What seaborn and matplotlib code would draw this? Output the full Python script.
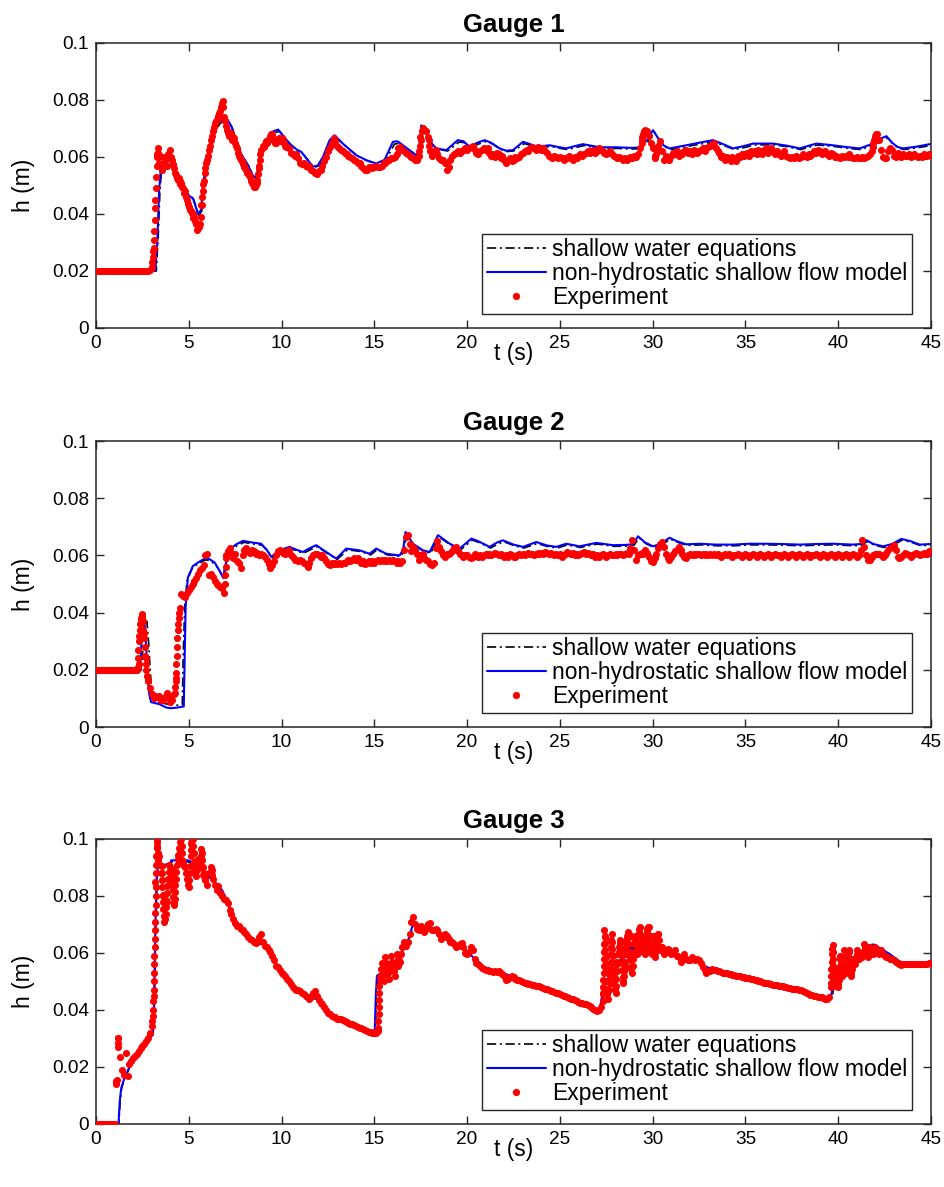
import numpy as np
import pandas as pd
import matplotlib
matplotlib.use("Agg")
import matplotlib.pyplot as plt
import seaborn as sns
from matplotlib.lines import Line2D
from matplotlib.ticker import FuncFormatter

# ---------------------------------------------------------------------------
# Data: water depth h (m) against time t (s) at three gauges
# ---------------------------------------------------------------------------
titles = ["Gauge 1", "Gauge 2", "Gauge 3"]
series_labels = ["shallow water equations",
                 "non-hydrostatic shallow flow model",
                 "Experiment"]
x_ticks = [0, 5, 10, 15, 20, 25, 30, 35, 40, 45]
y_ticks = [0, 0.02, 0.04, 0.06, 0.08, 0.1]

# measured record, sampled every 0.1 s from t = 0 to 45 s
exp_t = np.round(np.arange(451) * 0.1, 1)

g1_exp_h = [
    0.020, 0.020, 0.020, 0.020, 0.020, 0.020, 0.020, 0.020, 0.020, 0.020,
    0.020, 0.020, 0.020, 0.020, 0.020, 0.020, 0.020, 0.020, 0.020, 0.020,
    0.020, 0.020, 0.020, 0.020, 0.020, 0.020, 0.020, 0.020, 0.020, 0.0202,
    0.021, 0.028, 0.045, 0.061, 0.058, 0.0575, 0.060, 0.058, 0.057, 0.061,
    0.0625, 0.059, 0.056, 0.0535, 0.052, 0.0515, 0.051, 0.049, 0.048, 0.045,
    0.0425, 0.041, 0.040, 0.039, 0.0365, 0.035, 0.0365, 0.043, 0.0515, 0.056,
    0.059, 0.0625, 0.066, 0.069, 0.072, 0.073, 0.0745, 0.076, 0.079, 0.074,
    0.071, 0.0685, 0.0675, 0.068, 0.067, 0.065, 0.063, 0.0605, 0.059, 0.0575,
    0.057, 0.0555, 0.0545, 0.053, 0.051, 0.0495, 0.050, 0.052, 0.057, 0.0625,
    0.064, 0.0645, 0.065, 0.066, 0.0675, 0.068, 0.066, 0.065, 0.0655, 0.066,
    0.0665, 0.066, 0.064, 0.0635, 0.063, 0.0615, 0.061, 0.0605, 0.061, 0.0595,
    0.058, 0.0575, 0.058, 0.057, 0.0565, 0.057, 0.0555, 0.055, 0.0545, 0.054,
    0.055, 0.0555, 0.057, 0.0585, 0.060, 0.062, 0.0635, 0.065, 0.0665, 0.0655,
    0.064, 0.063, 0.0625, 0.062, 0.0615, 0.061, 0.0605, 0.060, 0.0595, 0.059,
    0.0585, 0.058, 0.058, 0.057, 0.056, 0.0555, 0.0555, 0.0565, 0.0565, 0.056,
    0.0565, 0.057, 0.0565, 0.0565, 0.057, 0.058, 0.058, 0.0585, 0.059, 0.0595,
    0.0595, 0.060, 0.061, 0.063, 0.0635, 0.0625, 0.062, 0.0615, 0.061, 0.0605,
    0.060, 0.0595, 0.059, 0.059, 0.0605, 0.066, 0.070, 0.0695, 0.069, 0.067,
    0.062, 0.0605, 0.062, 0.0625, 0.061, 0.0595, 0.059, 0.059, 0.058, 0.0555,
    0.0565, 0.059, 0.0605, 0.061, 0.0615, 0.062, 0.0615, 0.062, 0.0625, 0.063,
    0.0625, 0.063, 0.0635, 0.064, 0.0625, 0.0615, 0.061, 0.062, 0.0625, 0.063,
    0.0625, 0.063, 0.0615, 0.0605, 0.061, 0.060, 0.0615, 0.061, 0.0595, 0.0605,
    0.059, 0.058, 0.059, 0.0595, 0.0585, 0.059, 0.060, 0.0595, 0.060, 0.061,
    0.0615, 0.062, 0.0625, 0.062, 0.063, 0.0635, 0.063, 0.0625, 0.0635, 0.063,
    0.0625, 0.063, 0.062, 0.0615, 0.0605, 0.060, 0.0595, 0.0605, 0.060, 0.0595,
    0.060, 0.0595, 0.059, 0.0595, 0.0595, 0.0605, 0.0595, 0.059, 0.060, 0.0595,
    0.0605, 0.061, 0.0605, 0.061, 0.0615, 0.062, 0.0615, 0.062, 0.0625, 0.0615,
    0.062, 0.063, 0.0625, 0.062, 0.0615, 0.061, 0.0615, 0.062, 0.061, 0.0605,
    0.060, 0.0595, 0.060, 0.0595, 0.059, 0.0595, 0.059, 0.0595, 0.060, 0.0595,
    0.0605, 0.060, 0.061, 0.063, 0.065, 0.068, 0.0695, 0.069, 0.0675, 0.065,
    0.063, 0.0595, 0.061, 0.064, 0.0655, 0.062, 0.059, 0.0605, 0.0595, 0.059,
    0.0605, 0.0615, 0.061, 0.062, 0.0605, 0.0615, 0.061, 0.062, 0.0625, 0.0615,
    0.062, 0.061, 0.0625, 0.062, 0.0615, 0.062, 0.0625, 0.063, 0.062, 0.063,
    0.0635, 0.064, 0.0645, 0.065, 0.063, 0.062, 0.0615, 0.060, 0.0605, 0.059,
    0.060, 0.0595, 0.0585, 0.060, 0.059, 0.0585, 0.0605, 0.060, 0.061, 0.0605,
    0.061, 0.0615, 0.0605, 0.062, 0.0615, 0.062, 0.061, 0.0625, 0.062, 0.061,
    0.0625, 0.063, 0.0615, 0.0625, 0.063, 0.062, 0.061, 0.062, 0.061, 0.0605,
    0.061, 0.062, 0.0605, 0.060, 0.0595, 0.060, 0.0595, 0.0605, 0.060, 0.0595,
    0.060, 0.061, 0.0605, 0.060, 0.061, 0.0605, 0.061, 0.062, 0.0615, 0.0625,
    0.062, 0.061, 0.0615, 0.062, 0.061, 0.0605, 0.0615, 0.061, 0.060, 0.0605,
    0.060, 0.0595, 0.0605, 0.060, 0.0605, 0.060, 0.061, 0.060, 0.0595, 0.0595,
    0.060, 0.0595, 0.0595, 0.060, 0.0595, 0.060, 0.0605, 0.061, 0.062, 0.065,
    0.0675, 0.068, 0.066, 0.0625, 0.060, 0.0595, 0.0595, 0.062, 0.063, 0.0625,
    0.0605, 0.060, 0.0615, 0.0605, 0.060, 0.061, 0.0605, 0.0605, 0.061, 0.060,
    0.0605, 0.061, 0.0605, 0.060, 0.0605, 0.060, 0.061, 0.0605, 0.0605, 0.061,
    0.0608,
]

g2_exp_h = [
    0.020, 0.020, 0.020, 0.020, 0.020, 0.020, 0.020, 0.020, 0.020, 0.020,
    0.020, 0.020, 0.020, 0.020, 0.020, 0.020, 0.020, 0.020, 0.020, 0.020,
    0.020, 0.020, 0.020, 0.022, 0.036, 0.039, 0.033, 0.024, 0.016, 0.0135,
    0.0115, 0.010, 0.011, 0.0105, 0.011, 0.0095, 0.0093, 0.0105, 0.012, 0.0105,
    0.0087, 0.0095, 0.0115, 0.017, 0.034, 0.0418, 0.0465, 0.046, 0.0455, 0.047,
    0.048, 0.049, 0.050, 0.051, 0.052, 0.0534, 0.055, 0.0557, 0.0565, 0.060,
    0.0605, 0.053, 0.0535, 0.0525, 0.051, 0.050, 0.0495, 0.049, 0.0485, 0.047,
    0.060, 0.0615, 0.0627, 0.061, 0.059, 0.0605, 0.058, 0.0575, 0.0555, 0.060,
    0.062, 0.0627, 0.0615, 0.061, 0.062, 0.0615, 0.0605, 0.061, 0.060, 0.0605,
    0.060, 0.0595, 0.0585, 0.057, 0.0555, 0.0565, 0.058, 0.060, 0.0615, 0.062,
    0.0615, 0.061, 0.0605, 0.0615, 0.062, 0.060, 0.0595, 0.0585, 0.0585, 0.058,
    0.0585, 0.058, 0.0575, 0.057, 0.056, 0.0575, 0.059, 0.060, 0.0605, 0.0605,
    0.060, 0.0595, 0.060, 0.059, 0.058, 0.057, 0.0565, 0.0575, 0.057, 0.0575,
    0.057, 0.0575, 0.057, 0.0575, 0.0575, 0.058, 0.0585, 0.058, 0.0585, 0.059,
    0.0585, 0.059, 0.058, 0.0575, 0.058, 0.057, 0.0575, 0.058, 0.0575, 0.058,
    0.0575, 0.058, 0.0585, 0.058, 0.0585, 0.058, 0.0585, 0.058, 0.0585, 0.058,
    0.0585, 0.058, 0.0575, 0.058, 0.0575, 0.058, 0.062, 0.0665, 0.067, 0.064,
    0.0615, 0.063, 0.062, 0.0605, 0.0585, 0.060, 0.0605, 0.059, 0.0585, 0.058,
    0.057, 0.0565, 0.0575, 0.0625, 0.065, 0.063, 0.0615, 0.060, 0.0595, 0.0605,
    0.0605, 0.061, 0.0615, 0.0625, 0.063, 0.0615, 0.0605, 0.060, 0.0595, 0.060,
    0.060, 0.0595, 0.059, 0.0595, 0.0605, 0.060, 0.0595, 0.060, 0.0595, 0.060,
    0.0605, 0.060, 0.0605, 0.060, 0.0605, 0.061, 0.0605, 0.060, 0.0605, 0.060,
    0.0595, 0.060, 0.0595, 0.0605, 0.060, 0.0595, 0.0595, 0.060, 0.0605, 0.060,
    0.0605, 0.060, 0.0605, 0.061, 0.0605, 0.0605, 0.060, 0.0605, 0.061, 0.0605,
    0.061, 0.0605, 0.0612, 0.061, 0.0605, 0.061, 0.0605, 0.060, 0.0605, 0.060,
    0.0605, 0.0595, 0.060, 0.0605, 0.0612, 0.061, 0.0605, 0.061, 0.060, 0.0605,
    0.060, 0.0605, 0.061, 0.0612, 0.0605, 0.061, 0.0605, 0.060, 0.0605, 0.0595,
    0.060, 0.0595, 0.060, 0.0605, 0.060, 0.0595, 0.060, 0.0605, 0.060, 0.060,
    0.0605, 0.060, 0.0605, 0.0605, 0.060, 0.0605, 0.061, 0.0605, 0.0625, 0.0653,
    0.062, 0.0585, 0.060, 0.0605, 0.061, 0.0605, 0.0618, 0.061, 0.0595, 0.058,
    0.0577, 0.059, 0.0605, 0.0625, 0.064, 0.0647, 0.063, 0.0605, 0.059, 0.0585,
    0.0595, 0.0605, 0.0615, 0.062, 0.063, 0.062, 0.0605, 0.0595, 0.059, 0.060,
    0.0605, 0.060, 0.0605, 0.060, 0.0605, 0.0605, 0.060, 0.0605, 0.060, 0.0605,
    0.060, 0.0605, 0.060, 0.0605, 0.060, 0.0605, 0.060, 0.0595, 0.060, 0.0605,
    0.060, 0.0605, 0.060, 0.0595, 0.060, 0.060, 0.0605, 0.060, 0.0595, 0.060,
    0.0605, 0.060, 0.0595, 0.060, 0.0605, 0.060, 0.0595, 0.060, 0.0605, 0.060,
    0.0595, 0.060, 0.0605, 0.060, 0.0595, 0.060, 0.0605, 0.060, 0.060, 0.0595,
    0.060, 0.0605, 0.060, 0.0595, 0.060, 0.0605, 0.060, 0.0595, 0.060, 0.0605,
    0.060, 0.0595, 0.060, 0.0605, 0.060, 0.0595, 0.060, 0.060, 0.0605, 0.060,
    0.0595, 0.060, 0.0605, 0.060, 0.0595, 0.060, 0.0605, 0.060, 0.0595, 0.060,
    0.0605, 0.060, 0.0595, 0.060, 0.0605, 0.060, 0.0595, 0.060, 0.0605, 0.060,
    0.0595, 0.060, 0.062, 0.0655, 0.063, 0.060, 0.0585, 0.0583, 0.0595, 0.060,
    0.0605, 0.0605, 0.0605, 0.060, 0.0595, 0.060, 0.061, 0.062, 0.0625, 0.063,
    0.0636, 0.062, 0.0595, 0.059, 0.0595, 0.060, 0.061, 0.0605, 0.060, 0.0595,
    0.060, 0.0605, 0.061, 0.0605, 0.060, 0.0605, 0.061, 0.0605, 0.0605, 0.0615,
    0.0616,
]

g3_exp_h = [
    0.0, 0.0, 0.0, 0.0, 0.0, 0.0, 0.0, 0.0, 0.0, 0.0,
    0.0, 0.0143, 0.030, 0.0236, 0.019, 0.0172, 0.025, 0.017, 0.021, 0.022,
    0.023, 0.024, 0.0245, 0.0255, 0.0265, 0.0275, 0.028, 0.029, 0.0301, 0.032,
    0.0345, 0.045, 0.085, 0.100, 0.094, 0.088, 0.080, 0.072, 0.078, 0.086,
    0.090, 0.084, 0.078, 0.086, 0.093, 0.096, 0.100, 0.092, 0.090, 0.086,
    0.083, 0.094, 0.100, 0.092, 0.087, 0.093, 0.090, 0.095, 0.088, 0.086,
    0.084, 0.088, 0.090, 0.086, 0.084, 0.082, 0.0835, 0.081, 0.080, 0.079,
    0.0785, 0.0775, 0.075, 0.0735, 0.072, 0.0705, 0.0695, 0.0695, 0.0685, 0.068,
    0.0675, 0.0665, 0.0655, 0.065, 0.0645, 0.064, 0.0635, 0.064, 0.0655, 0.0665,
    0.064, 0.0625, 0.062, 0.061, 0.0605, 0.059, 0.0575, 0.0555, 0.055, 0.054,
    0.053, 0.0525, 0.052, 0.051, 0.050, 0.049, 0.048, 0.0475, 0.047, 0.047,
    0.0465, 0.046, 0.0455, 0.045, 0.0445, 0.044, 0.0445, 0.046, 0.0465, 0.045,
    0.0435, 0.0425, 0.042, 0.041, 0.040, 0.039, 0.0385, 0.038, 0.0375, 0.0375,
    0.037, 0.037, 0.0368, 0.0365, 0.036, 0.0358, 0.0355, 0.0352, 0.035, 0.0348,
    0.0345, 0.034, 0.0338, 0.0336, 0.0333, 0.033, 0.0327, 0.0324, 0.0322, 0.032,
    0.0318, 0.032, 0.0325, 0.052, 0.0565, 0.050, 0.0585, 0.055, 0.0508, 0.059,
    0.055, 0.0519, 0.0598, 0.0555, 0.057, 0.062, 0.064, 0.0625, 0.064, 0.0668,
    0.071, 0.0726, 0.070, 0.0685, 0.068, 0.0695, 0.0685, 0.0674, 0.0685, 0.070,
    0.0705, 0.068, 0.068, 0.0685, 0.068, 0.0665, 0.065, 0.0655, 0.0665, 0.066,
    0.065, 0.064, 0.064, 0.063, 0.0622, 0.0625, 0.063, 0.0635, 0.062, 0.060,
    0.0598, 0.0605, 0.062, 0.061, 0.058, 0.0566, 0.056, 0.0555, 0.0548, 0.0545,
    0.0542, 0.054, 0.0538, 0.0536, 0.0534, 0.0535, 0.0533, 0.0535, 0.053, 0.0525,
    0.052, 0.0505, 0.051, 0.0515, 0.0518, 0.0515, 0.051, 0.0505, 0.0505, 0.050,
    0.0498, 0.0495, 0.0494, 0.049, 0.0492, 0.0488, 0.0487, 0.0485, 0.0484, 0.0483,
    0.048, 0.0478, 0.0475, 0.0472, 0.047, 0.0468, 0.0465, 0.0462, 0.046, 0.0458,
    0.0455, 0.0453, 0.045, 0.0448, 0.0445, 0.0442, 0.044, 0.0437, 0.0434, 0.043,
    0.0428, 0.0425, 0.0423, 0.042, 0.042, 0.0418, 0.0415, 0.041, 0.0405, 0.040,
    0.0395, 0.040, 0.041, 0.0458, 0.0679, 0.050, 0.044, 0.052, 0.0665, 0.052,
    0.046, 0.057, 0.062, 0.064, 0.050, 0.055, 0.063, 0.0668, 0.058, 0.053,
    0.063, 0.0656, 0.060, 0.0691, 0.063, 0.0656, 0.060, 0.0685, 0.0691, 0.063,
    0.066, 0.0586, 0.0625, 0.0668, 0.061, 0.062, 0.0598, 0.0605, 0.0615, 0.0611,
    0.0598, 0.0605, 0.061, 0.059, 0.0585, 0.057, 0.0585, 0.0595, 0.058, 0.0576,
    0.0575, 0.0585, 0.058, 0.0575, 0.058, 0.0576, 0.0565, 0.055, 0.054, 0.053,
    0.0535, 0.0538, 0.0545, 0.0542, 0.0541, 0.0538, 0.0535, 0.0533, 0.053, 0.053,
    0.0528, 0.0527, 0.0525, 0.0524, 0.0522, 0.052, 0.0518, 0.0518, 0.0516, 0.0514,
    0.0513, 0.0512, 0.0512, 0.051, 0.0508, 0.0506, 0.0504, 0.0502, 0.050, 0.0498,
    0.0496, 0.0494, 0.0494, 0.0492, 0.049, 0.0488, 0.0487, 0.0486, 0.0485, 0.0484,
    0.0483, 0.0482, 0.048, 0.0478, 0.0476, 0.0475, 0.0474, 0.0473, 0.0472, 0.0471,
    0.047, 0.0468, 0.0464, 0.046, 0.0456, 0.0454, 0.0452, 0.045, 0.0448, 0.0446,
    0.0446, 0.0444, 0.0442, 0.044, 0.044, 0.0445, 0.048, 0.0627, 0.050, 0.054,
    0.048, 0.059, 0.052, 0.061, 0.053, 0.055, 0.0609, 0.052, 0.058, 0.056,
    0.061, 0.058, 0.060, 0.0586, 0.0633, 0.060, 0.0586, 0.0621, 0.060, 0.0598,
    0.0621, 0.060, 0.0598, 0.0609, 0.0595, 0.059, 0.0586, 0.0585, 0.058, 0.0578,
    0.0574, 0.057, 0.0565, 0.056, 0.0558, 0.0562, 0.0563, 0.0562, 0.0563, 0.0562,
    0.0563, 0.0562, 0.0563, 0.0562, 0.0563, 0.0562, 0.0563, 0.0562, 0.0563, 0.0564,
    0.0565,
]

# extra measured samples (t, h) recorded within fast rises and oscillations
g1_exp_extra = [
    (3.02, 0.0215), (3.04, 0.023), (3.06, 0.025), (3.08, 0.027), (3.12, 0.031),
    (3.14, 0.034), (3.16, 0.038), (3.18, 0.042), (3.22, 0.049), (3.24, 0.053),
    (3.26, 0.057), (3.28, 0.060), (3.32, 0.063), (3.35, 0.0615),
    (3.45, 0.0605), (3.55, 0.0555), (3.65, 0.0575), (3.75, 0.060), (3.85, 0.0595),
    (3.95, 0.0605), (4.05, 0.060), (4.15, 0.0575), (4.25, 0.0545), (4.35, 0.0525),
    (4.45, 0.0525), (4.55, 0.0505), (4.65, 0.0495), (4.75, 0.0475), (4.85, 0.046),
    (4.95, 0.0435), (5.05, 0.0415), (5.15, 0.0405), (5.25, 0.0385), (5.35, 0.0375),
    (5.45, 0.0345), (5.55, 0.0355), (5.65, 0.039), (5.68, 0.043), (5.72, 0.046),
    (5.75, 0.048), (5.78, 0.0505), (5.85, 0.0545), (5.95, 0.058), (6.05, 0.0605),
    (6.15, 0.064), (6.25, 0.0675), (6.35, 0.0705), (6.45, 0.0725), (6.55, 0.0735),
    (6.65, 0.0755), (6.75, 0.0775), (6.83, 0.0795), (6.87, 0.0775), (6.95, 0.0725),
    (7.05, 0.0695), (7.15, 0.0675), (7.25, 0.0685), (7.35, 0.066), (7.45, 0.0665),
    (7.55, 0.064), (7.65, 0.0615), (7.75, 0.0595), (7.85, 0.0585), (7.95, 0.0565),
    (8.05, 0.056), (8.15, 0.0545), (8.25, 0.0535), (8.35, 0.0515), (8.45, 0.0505),
    (8.55, 0.0495), (8.65, 0.051), (8.75, 0.054), (8.78, 0.056), (8.82, 0.059),
    (8.85, 0.061), (9.05, 0.0635), (9.15, 0.0655), (9.25, 0.066), (9.35, 0.0665),
    (9.45, 0.068), (9.55, 0.0665), (9.65, 0.065), (9.75, 0.066), (9.85, 0.0665),
    (9.95, 0.0655), (10.05, 0.0665), (10.15, 0.065), (10.25, 0.0635),
    (17.42, 0.062), (17.45, 0.064), (17.48, 0.067), (17.55, 0.069), (17.93, 0.066),
    (17.96, 0.064), (29.42, 0.066), (29.45, 0.067), (29.55, 0.069), (30.15, 0.0605),
    (30.25, 0.0625), (41.85, 0.0635), (41.95, 0.066), (42.05, 0.068),
]

g2_exp_extra = [
    (2.24, 0.021), (2.26, 0.024), (2.28, 0.027), (2.32, 0.030), (2.34, 0.032),
    (2.36, 0.034), (2.38, 0.036), (2.42, 0.037), (2.44, 0.038), (2.46, 0.0395),
    (2.48, 0.0385), (2.52, 0.037), (2.55, 0.034), (2.58, 0.031), (2.62, 0.028),
    (2.65, 0.025), (2.68, 0.022), (2.72, 0.020), (2.75, 0.018), (2.78, 0.0165),
    (4.25, 0.012), (4.27, 0.014), (4.29, 0.016), (4.31, 0.019), (4.33, 0.022),
    (4.35, 0.025), (4.37, 0.028), (4.39, 0.031), (4.42, 0.036), (4.45, 0.038),
    (4.48, 0.040), (6.95, 0.050), (6.97, 0.053), (6.99, 0.056), (7.02, 0.059),
]

g3_exp_extra = [
    (1.08, 0.0150), (1.10, 0.0140), (1.12, 0.0155), (1.19, 0.0270), (1.20, 0.0285),
    (1.21, 0.0300),
    (3.03, 0.036), (3.05, 0.038), (3.07, 0.040), (3.09, 0.043), (3.11, 0.047),
    (3.12, 0.050), (3.13, 0.053), (3.14, 0.056), (3.15, 0.059), (3.16, 0.062),
    (3.17, 0.065), (3.18, 0.068), (3.19, 0.071), (3.20, 0.074), (3.21, 0.077),
    (3.21, 0.080), (3.22, 0.083), (3.23, 0.088), (3.24, 0.091), (3.25, 0.094),
    (3.26, 0.097), (3.27, 0.099),
    (3.31, 0.0975), (3.32, 0.095), (3.33, 0.0925), (3.36, 0.094), (3.45, 0.091),
    (3.55, 0.0905), (3.56, 0.088), (3.57, 0.0855), (3.58, 0.083), (3.59, 0.0805),
    (3.61, 0.078), (3.63, 0.0755), (3.65, 0.073), (3.67, 0.071),
    (3.75, 0.0735), (3.77, 0.076), (3.79, 0.0785), (3.82, 0.081), (3.85, 0.0835),
    (3.88, 0.086), (3.91, 0.0885), (3.94, 0.091),
    (4.08, 0.0895), (4.10, 0.087), (4.12, 0.0845), (4.14, 0.082), (4.16, 0.0795),
    (4.18, 0.077),
    (4.24, 0.079), (4.26, 0.0815), (4.28, 0.084), (4.33, 0.0885), (4.36, 0.091),
    (4.42, 0.0945), (4.47, 0.097), (4.55, 0.099),
    (4.62, 0.0975), (4.64, 0.095), (4.66, 0.0925), (4.75, 0.0905), (4.85, 0.088),
    (4.94, 0.0855), (4.96, 0.084),
    (5.03, 0.0855), (5.05, 0.088), (5.07, 0.0905), (5.12, 0.096), (5.14, 0.0985),
    (5.17, 0.0995),
    (5.24, 0.0975), (5.26, 0.095), (5.33, 0.0895), (5.36, 0.0885), (5.44, 0.089),
    (5.47, 0.091),
    (5.62, 0.0915), (5.64, 0.094), (5.66, 0.0965), (5.73, 0.0925), (5.75, 0.090),
    (5.78, 0.0875), (5.84, 0.087), (5.87, 0.0855),
    (6.17, 0.0885), (6.23, 0.089), (6.25, 0.0875),
    (15.21, 0.0335), (15.22, 0.036), (15.23, 0.0385), (15.24, 0.041), (15.25, 0.0435),
    (15.26, 0.046), (15.27, 0.0485), (15.28, 0.0505),
    (15.35, 0.0545), (15.45, 0.0535), (15.55, 0.0525), (15.65, 0.0565), (15.75, 0.053),
    (15.85, 0.0545), (15.95, 0.057), (16.05, 0.0535), (16.15, 0.056), (16.25, 0.058),
    (16.35, 0.0575), (16.45, 0.0595),
    (27.31, 0.043), (27.32, 0.0455), (27.33, 0.048), (27.34, 0.0505), (27.35, 0.053),
    (27.36, 0.0555), (27.37, 0.058), (27.38, 0.0605), (27.39, 0.063), (27.41, 0.0655),
    (27.43, 0.066), (27.44, 0.0635), (27.45, 0.061), (27.46, 0.0585), (27.47, 0.056),
    (27.48, 0.0535), (27.52, 0.0475), (27.55, 0.0455), (27.65, 0.047), (27.68, 0.0495),
    (27.72, 0.0545), (27.73, 0.057), (27.74, 0.0595), (27.76, 0.062), (27.78, 0.0645),
    (27.82, 0.064), (27.83, 0.0615), (27.84, 0.059), (27.85, 0.0565), (27.86, 0.054),
    (27.88, 0.0515), (27.92, 0.049), (27.95, 0.0475),
    (28.03, 0.0485), (28.05, 0.051), (28.07, 0.0535), (28.09, 0.056), (28.13, 0.0595),
    (28.16, 0.0605), (28.22, 0.0635), (28.25, 0.0645),
    (28.32, 0.0615), (28.34, 0.059), (28.35, 0.0565), (28.37, 0.054), (28.38, 0.0515),
    (28.42, 0.0495), (28.45, 0.052), (28.47, 0.0535),
    (28.52, 0.057), (28.54, 0.0595), (28.56, 0.062), (28.58, 0.0645), (28.62, 0.066),
    (28.65, 0.0675),
    (28.72, 0.0655), (28.74, 0.063), (28.76, 0.0605), (28.78, 0.058), (28.82, 0.0555),
    (28.85, 0.0545),
    (28.92, 0.0555), (28.94, 0.058), (28.96, 0.0605), (29.03, 0.0645), (29.05, 0.066),
    (29.12, 0.0635), (29.15, 0.061), (29.17, 0.0595), (29.22, 0.062), (29.24, 0.0645),
    (29.26, 0.067), (29.28, 0.0685),
    (29.32, 0.0665), (29.34, 0.064), (29.36, 0.0615), (29.45, 0.064), (29.52, 0.0635),
    (29.55, 0.061), (29.57, 0.0595),
    (29.63, 0.0625), (29.65, 0.065), (29.67, 0.0675), (29.75, 0.069), (29.85, 0.066),
    (29.87, 0.0635), (29.93, 0.061), (29.95, 0.0595),
    (30.03, 0.0635), (30.05, 0.061), (30.07, 0.0595), (30.12, 0.060), (30.15, 0.0615),
    (30.17, 0.064), (30.23, 0.065), (30.26, 0.0665), (30.35, 0.0645), (30.37, 0.062),
    (39.61, 0.0495), (39.62, 0.052), (39.63, 0.0545), (39.64, 0.057), (39.66, 0.0595),
    (39.68, 0.0615), (39.72, 0.0605), (39.73, 0.058), (39.74, 0.0555), (39.75, 0.053),
    (39.77, 0.0505), (39.78, 0.0485),
    (39.85, 0.052), (39.88, 0.0525), (39.95, 0.0505), (39.97, 0.049), (40.03, 0.0505),
    (40.05, 0.053), (40.07, 0.0555), (40.09, 0.058),
    (40.15, 0.057), (40.17, 0.0545), (40.22, 0.0535), (40.24, 0.056), (40.26, 0.0585),
    (40.34, 0.0585), (40.36, 0.056), (40.38, 0.0535),
    (40.45, 0.055), (40.53, 0.0565), (40.55, 0.059), (40.58, 0.0605), (40.65, 0.058),
    (40.67, 0.0555), (40.69, 0.053),
    (40.75, 0.0545), (40.78, 0.056), (40.85, 0.0575), (40.95, 0.0585), (41.02, 0.0595),
    (41.08, 0.0595), (41.35, 0.0605), (41.45, 0.062), (41.55, 0.0615), (41.65, 0.0605),
]

# model results (t, h)
g1_swe = [
    (0, 0.020), (3.25, 0.020), (3.35, 0.032), (3.45, 0.049), (3.55, 0.0565),
    (3.75, 0.058), (3.95, 0.0595), (4.15, 0.0565), (4.45, 0.0505), (4.8, 0.048),
    (5.08, 0.046), (5.25, 0.0452), (5.4, 0.0425), (5.53, 0.0395), (5.7, 0.041),
    (5.8, 0.050), (5.98, 0.0555), (6.25, 0.0645), (6.5, 0.070), (6.72, 0.072),
    (7.08, 0.073), (7.35, 0.070), (7.62, 0.0645), (7.9, 0.0603), (8.25, 0.0565),
    (8.52, 0.0528), (8.7, 0.0527), (8.88, 0.0598), (9.25, 0.0655), (9.6, 0.0685),
    (9.88, 0.069), (10.23, 0.0662), (10.5, 0.0643), (10.86, 0.0622), (11.1, 0.0615),
    (11.45, 0.0587), (11.75, 0.0564), (12.0, 0.0568), (12.3, 0.0598), (12.65, 0.0655),
    (12.93, 0.067), (13.35, 0.0643), (14.1, 0.0603), (14.6, 0.0587), (15.15, 0.0575),
    (15.6, 0.0587), (16.08, 0.0645), (16.3, 0.0648), (16.6, 0.0637), (17.3, 0.0604),
    (17.45, 0.0618), (17.58, 0.0705), (17.85, 0.069), (18.1, 0.0646), (18.4, 0.0627),
    (18.95, 0.0621), (19.58, 0.0653), (19.85, 0.065), (20.2, 0.0632), (20.6, 0.0645),
    (21.0, 0.0654), (21.35, 0.0646), (21.8, 0.0627), (22.15, 0.0619), (22.5, 0.0621),
    (23.08, 0.0647), (23.45, 0.064), (23.8, 0.0632), (24.5, 0.0637), (24.95, 0.0631),
    (25.4, 0.0626), (25.85, 0.0633), (26.3, 0.064), (27.2, 0.063), (28.1, 0.063),
    (28.85, 0.0628), (29.35, 0.0629), (29.75, 0.0655), (30.08, 0.0688), (30.35, 0.066),
    (30.65, 0.0636), (30.97, 0.0626), (31.85, 0.0637), (32.55, 0.0645), (33.3, 0.0653),
    (33.85, 0.064), (34.4, 0.0626), (34.95, 0.0633), (35.45, 0.0642), (36.5, 0.0643),
    (37.25, 0.0636), (37.97, 0.0626), (38.87, 0.0642), (39.77, 0.0637), (40.45, 0.0631),
    (41.2, 0.0626), (41.93, 0.0642), (42.35, 0.066), (42.67, 0.0667), (42.95, 0.0646),
    (43.25, 0.0632), (43.55, 0.0626), (44.25, 0.0632), (44.95, 0.064), (45.0, 0.064),
]

g1_nh = [
    (0, 0.020), (3.2, 0.020), (3.3, 0.030), (3.4, 0.048), (3.5, 0.0567),
    (3.72, 0.0585), (3.9, 0.060), (4.1, 0.057), (4.41, 0.051), (4.77, 0.0485),
    (5.04, 0.0462), (5.22, 0.0456), (5.35, 0.043), (5.49, 0.040), (5.67, 0.0415),
    (5.76, 0.0509), (5.94, 0.0561), (6.2, 0.065), (6.45, 0.0705), (6.66, 0.0725),
    (7.03, 0.0737), (7.3, 0.0708), (7.57, 0.065), (7.84, 0.0608), (8.2, 0.057),
    (8.47, 0.0532), (8.65, 0.053), (8.83, 0.0602), (9.2, 0.066), (9.55, 0.069),
    (9.82, 0.0696), (10.18, 0.0667), (10.43, 0.0647), (10.81, 0.0626), (11.06, 0.0618),
    (11.4, 0.059), (11.69, 0.0566), (11.95, 0.057), (12.23, 0.060), (12.59, 0.0659),
    (12.86, 0.0676), (13.3, 0.0647), (14.03, 0.0606), (14.56, 0.0589), (15.1, 0.0577),
    (15.55, 0.059), (16.0, 0.0653), (16.25, 0.0655), (16.54, 0.0641), (17.26, 0.0606),
    (17.4, 0.062), (17.53, 0.0711), (17.8, 0.0694), (18.05, 0.065), (18.34, 0.063),
    (18.88, 0.0624), (19.5, 0.0659), (19.8, 0.0655), (20.13, 0.0636), (20.55, 0.065),
    (20.94, 0.0659), (21.3, 0.065), (21.75, 0.063), (22.1, 0.0622), (22.47, 0.0624),
    (23.01, 0.0653), (23.4, 0.0645), (23.73, 0.0636), (24.45, 0.0641), (24.9, 0.0635),
    (25.34, 0.063), (25.8, 0.0638), (26.24, 0.0645), (27.14, 0.0634), (28.04, 0.0634),
    (28.8, 0.0632), (29.3, 0.0633), (29.7, 0.066), (30.02, 0.0694), (30.3, 0.0665),
    (30.6, 0.064), (30.91, 0.063), (31.81, 0.0641), (32.5, 0.065), (33.25, 0.0659),
    (33.8, 0.0645), (34.33, 0.063), (34.9, 0.0638), (35.41, 0.0647), (36.48, 0.0647),
    (37.2, 0.064), (37.92, 0.063), (38.82, 0.0647), (39.72, 0.0641), (40.4, 0.0635),
    (41.16, 0.063), (41.88, 0.0647), (42.3, 0.0665), (42.6, 0.0673), (42.9, 0.065),
    (43.2, 0.0635), (43.49, 0.063), (44.21, 0.0636), (44.93, 0.0645), (45.0, 0.0645),
]

g2_swe = [
    (0, 0.020), (2.45, 0.020), (2.55, 0.030), (2.65, 0.036), (2.74, 0.037),
    (2.82, 0.031), (2.92, 0.020), (3.02, 0.011), (3.1, 0.0092), (3.5, 0.0085),
    (4.0, 0.0078), (4.5, 0.0076), (4.65, 0.0078), (4.7, 0.025), (4.78, 0.042),
    (4.9, 0.051), (5.2, 0.0558), (5.5, 0.057), (5.75, 0.058), (5.95, 0.0585),
    (6.15, 0.058), (6.42, 0.057), (6.7, 0.0542), (6.88, 0.052), (7.06, 0.0575),
    (7.25, 0.0617), (7.6, 0.0634), (7.97, 0.0646), (8.5, 0.064), (8.95, 0.0636),
    (9.25, 0.0615), (9.5, 0.0592), (9.94, 0.0613), (10.5, 0.0625), (10.85, 0.0615),
    (11.2, 0.0608), (11.55, 0.062), (11.92, 0.0631), (12.45, 0.0608), (13.0, 0.0586),
    (13.55, 0.062), (14.25, 0.0614), (14.8, 0.0602), (15.15, 0.062), (15.7, 0.0602),
    (16.42, 0.0597), (16.6, 0.0615), (16.73, 0.0675), (17.12, 0.0637), (17.67, 0.0614),
    (18.03, 0.0608), (18.25, 0.0635), (18.48, 0.0665), (19.1, 0.0637), (19.65, 0.062),
    (20.28, 0.0654), (20.65, 0.0645), (21.26, 0.0626), (21.65, 0.064), (21.98, 0.0648),
    (22.55, 0.0634), (23.06, 0.0626), (23.78, 0.0642), (24.35, 0.0631), (24.85, 0.0626),
    (25.4, 0.0637), (26.1, 0.0628), (27.0, 0.064), (27.9, 0.0632), (28.63, 0.0633),
    (29.0, 0.0636), (29.26, 0.0662), (29.65, 0.0641), (30.07, 0.0628), (30.45, 0.0636),
    (30.96, 0.0657), (31.35, 0.0646), (31.86, 0.0635), (32.6, 0.0637), (33.45, 0.0634),
    (34.4, 0.0634), (35.25, 0.0637), (36.2, 0.0637), (37.05, 0.0636), (38.0, 0.0634),
    (38.85, 0.0636), (39.8, 0.0637), (40.85, 0.0634), (41.25, 0.0636), (41.57, 0.0649),
    (41.95, 0.0636), (42.47, 0.0628), (42.95, 0.0636), (43.45, 0.0654), (43.95, 0.0646),
    (44.45, 0.0634), (45.0, 0.0636),
]

g2_nh = [
    (0, 0.020), (2.38, 0.020), (2.45, 0.030), (2.52, 0.037), (2.58, 0.038),
    (2.65, 0.034), (2.72, 0.026), (2.8, 0.016), (2.88, 0.011), (2.97, 0.0087),
    (3.42, 0.0080), (3.8, 0.0068), (4.05, 0.0066), (4.4, 0.0068), (4.73, 0.0072),
    (4.78, 0.025), (4.83, 0.0418), (4.95, 0.0523), (5.22, 0.0563), (5.49, 0.0575),
    (5.75, 0.0585), (5.94, 0.059), (6.12, 0.0587), (6.4, 0.0575), (6.66, 0.0546),
    (6.84, 0.0523), (7.02, 0.058), (7.2, 0.0622), (7.56, 0.0639), (7.92, 0.0651),
    (8.45, 0.0645), (8.9, 0.0641), (9.2, 0.062), (9.44, 0.0595), (9.89, 0.0618),
    (10.43, 0.063), (10.8, 0.062), (11.15, 0.0612), (11.5, 0.0625), (11.87, 0.0636),
    (12.41, 0.0612), (12.95, 0.0589), (13.49, 0.0624), (14.2, 0.0618), (14.74, 0.0606),
    (15.1, 0.0624), (15.64, 0.0606), (16.36, 0.060), (16.55, 0.062), (16.68, 0.0682),
    (17.08, 0.0641), (17.62, 0.0618), (17.98, 0.0612), (18.2, 0.064), (18.43, 0.0671),
    (19.06, 0.0641), (19.6, 0.0624), (20.23, 0.0659), (20.6, 0.065), (21.21, 0.063),
    (21.6, 0.0645), (21.93, 0.0653), (22.5, 0.0638), (23.01, 0.063), (23.73, 0.0647),
    (24.3, 0.0635), (24.8, 0.063), (25.34, 0.0641), (26.06, 0.0632), (26.96, 0.0644),
    (27.86, 0.0636), (28.58, 0.0637), (28.95, 0.064), (29.21, 0.0667), (29.6, 0.0645),
    (30.02, 0.0632), (30.4, 0.064), (30.91, 0.0662), (31.3, 0.065), (31.81, 0.0639),
    (32.53, 0.0641), (33.4, 0.0638), (34.33, 0.0638), (35.2, 0.0641), (36.13, 0.0641),
    (37.0, 0.064), (37.92, 0.0638), (38.8, 0.064), (39.72, 0.0641), (40.8, 0.0638),
    (41.2, 0.064), (41.52, 0.0653), (41.9, 0.064), (42.42, 0.0632), (42.9, 0.064),
    (43.4, 0.0658), (43.9, 0.065), (44.39, 0.0638), (45.0, 0.064),
]

g3_swe = [
    (0, 0.0), (1.23, 0.0), (1.3, 0.008), (1.38, 0.0126), (1.52, 0.0155),
    (1.82, 0.020), (2.22, 0.024), (2.62, 0.028), (2.92, 0.0305), (3.08, 0.0312),
    (3.14, 0.040), (3.22, 0.070), (3.3, 0.088), (3.35, 0.0895), (3.62, 0.0902),
    (4.02, 0.091), (4.08, 0.092), (4.62, 0.092), (4.97, 0.092), (5.15, 0.0915),
    (5.51, 0.0902), (5.92, 0.0875), (6.32, 0.085), (6.82, 0.0815), (7.22, 0.0755),
    (7.58, 0.070), (8.02, 0.0667), (8.52, 0.0642), (9.02, 0.0627), (9.37, 0.0607),
    (9.73, 0.0557), (10.09, 0.0522), (10.52, 0.0488), (11.02, 0.0468), (11.52, 0.0448),
    (12.02, 0.0433), (12.62, 0.0386), (13.12, 0.037), (13.69, 0.0353), (14.04, 0.0344),
    (14.58, 0.0328), (15.0, 0.0316), (15.06, 0.0325), (15.12, 0.044), (15.18, 0.051),
    (15.52, 0.0532), (15.92, 0.0552), (16.32, 0.0577), (16.82, 0.0637), (17.12, 0.070),
    (17.52, 0.069), (18.02, 0.0686), (18.62, 0.0657), (19.22, 0.0632), (19.82, 0.0615),
    (20.42, 0.0578), (21.02, 0.0543), (21.77, 0.0533), (22.52, 0.0513), (23.22, 0.0493),
    (24.02, 0.0478), (24.62, 0.0463), (25.32, 0.0446), (26.02, 0.0428), (26.62, 0.0416),
    (27.05, 0.0394), (27.2, 0.040), (27.35, 0.0455), (27.55, 0.0495), (27.85, 0.0527),
    (28.25, 0.0567), (28.65, 0.060), (29.05, 0.062), (29.45, 0.0636), (29.85, 0.064),
    (30.25, 0.0626), (30.65, 0.0612), (31.25, 0.0597), (31.85, 0.0583), (32.45, 0.0573),
    (32.95, 0.0548), (33.55, 0.0538), (34.35, 0.0523), (35.25, 0.051), (36.15, 0.0494),
    (37.05, 0.0482), (37.95, 0.047), (38.55, 0.0453), (39.25, 0.0441), (39.6, 0.0437),
    (39.7, 0.0455), (39.8, 0.0505), (39.9, 0.0535), (40.35, 0.0552), (40.85, 0.0572),
    (41.25, 0.0596), (41.55, 0.062), (41.95, 0.0626), (42.35, 0.0612), (42.85, 0.0593),
    (43.35, 0.0568), (43.75, 0.0563), (45.0, 0.0563),
]

g3_nh = [
    (0, 0.0), (1.21, 0.0), (1.28, 0.008), (1.36, 0.0126), (1.5, 0.0155),
    (1.8, 0.020), (2.2, 0.024), (2.6, 0.028), (2.9, 0.0305), (3.06, 0.0312),
    (3.12, 0.040), (3.2, 0.070), (3.28, 0.088), (3.33, 0.090), (3.6, 0.0907),
    (4.0, 0.0915), (4.05, 0.0925), (4.6, 0.0925), (4.95, 0.0925), (5.13, 0.092),
    (5.49, 0.0907), (5.9, 0.088), (6.3, 0.0855), (6.8, 0.082), (7.2, 0.076),
    (7.56, 0.0705), (8.0, 0.067), (8.5, 0.0645), (9.0, 0.063), (9.35, 0.061),
    (9.71, 0.056), (10.07, 0.0525), (10.5, 0.049), (11.0, 0.047), (11.5, 0.045),
    (12.0, 0.0435), (12.6, 0.0388), (13.1, 0.0372), (13.67, 0.0355), (14.02, 0.0346),
    (14.56, 0.033), (14.95, 0.0318), (15.02, 0.0325), (15.08, 0.045), (15.14, 0.052),
    (15.5, 0.0535), (15.9, 0.0555), (16.3, 0.058), (16.8, 0.064), (17.1, 0.0705),
    (17.5, 0.0695), (18.0, 0.069), (18.6, 0.066), (19.2, 0.0635), (19.8, 0.0618),
    (20.4, 0.058), (21.0, 0.0545), (21.75, 0.0535), (22.5, 0.0515), (23.2, 0.0495),
    (24.0, 0.048), (24.6, 0.0465), (25.3, 0.0448), (26.0, 0.043), (26.6, 0.0418),
    (27.0, 0.0398), (27.15, 0.0405), (27.3, 0.046), (27.5, 0.050), (27.8, 0.053),
    (28.2, 0.057), (28.6, 0.0605), (29.0, 0.0625), (29.4, 0.064), (29.8, 0.0645),
    (30.2, 0.063), (30.6, 0.0615), (31.2, 0.060), (31.8, 0.0585), (32.4, 0.0575),
    (32.9, 0.055), (33.5, 0.054), (34.3, 0.0525), (35.2, 0.0512), (36.1, 0.0496),
    (37.0, 0.0484), (37.9, 0.0472), (38.5, 0.0455), (39.2, 0.0443), (39.55, 0.044),
    (39.65, 0.046), (39.75, 0.051), (39.85, 0.054), (40.3, 0.0555), (40.8, 0.0575),
    (41.2, 0.060), (41.5, 0.0625), (41.9, 0.063), (42.3, 0.0615), (42.8, 0.0595),
    (43.3, 0.057), (43.7, 0.0564), (45.0, 0.0564),
]

gauges = [
    (g1_swe, g1_nh, g1_exp_h, g1_exp_extra),
    (g2_swe, g2_nh, g2_exp_h, g2_exp_extra),
    (g3_swe, g3_nh, g3_exp_h, g3_exp_extra),
]

# ---------------------------------------------------------------------------
# Styling
# ---------------------------------------------------------------------------
sns.set_style("ticks")
plt.rcParams["font.family"] = ["Liberation Sans", "DejaVu Sans"]
plt.rcParams["axes.unicode_minus"] = False
plt.rcParams["text.color"] = "black"
plt.rcParams["axes.labelcolor"] = "black"

AX_COLOR = "#262626"
SWE_STYLE = (0, (5.5, 2.2, 1.2, 2.2))
TICK_FS = 13.7
LABEL_FS = 16.5
TITLE_FS = 18.5

fig = plt.figure(figsize=(9.45, 11.87), dpi=100)
axes_boxes = [
    [0.1016, 0.7237, 0.8836, 0.2401],
    [0.1016, 0.3875, 0.8836, 0.2409],
    [0.1016, 0.0531, 0.8836, 0.2401],
]


def to_frame(pairs):
    return pd.DataFrame(pairs, columns=["t", "h"])


for box, title, (swe, nh, exp_h, extra) in zip(axes_boxes, titles, gauges):
    ax = fig.add_axes(box)

    swe_df = to_frame(swe)
    nh_df = to_frame(nh)
    exp_df = pd.concat(
        [pd.DataFrame({"t": exp_t, "h": exp_h}), to_frame(extra)],
        ignore_index=True,
    )

    sns.lineplot(data=swe_df, x="t", y="h", ax=ax, color="black",
                 linewidth=1.2, linestyle=SWE_STYLE, estimator=None,
                 sort=False, legend=False, zorder=2)
    sns.lineplot(data=nh_df, x="t", y="h", ax=ax, color="blue",
                 linewidth=1.5, estimator=None, sort=False, legend=False,
                 zorder=2.5)
    sns.scatterplot(data=exp_df, x="t", y="h", ax=ax, color="red", s=26,
                    linewidth=0, legend=False, zorder=3)

    ax.set_xlim(0, 45)
    ax.set_ylim(0, 0.1)
    ax.set_xticks(x_ticks)
    ax.set_yticks(y_ticks)
    ax.yaxis.set_major_formatter(FuncFormatter(lambda v, p: f"{v:g}"))
    ax.tick_params(direction="in", top=True, right=True, length=6,
                   width=1.0, color=AX_COLOR, labelsize=TICK_FS,
                   labelcolor="black", pad=5)
    for spine in ax.spines.values():
        spine.set_visible(True)
        spine.set_linewidth(1.1)
        spine.set_color(AX_COLOR)

    ax.set_xlabel("t (s)", fontsize=LABEL_FS, labelpad=-7)
    ax.set_ylabel("h (m)", fontsize=LABEL_FS, labelpad=12)
    ax.set_title(title, fontsize=TITLE_FS, fontweight="bold", pad=8)

    handles = [
        Line2D([], [], color="black", linewidth=1.2, linestyle=SWE_STYLE),
        Line2D([], [], color="blue", linewidth=1.5),
        Line2D([], [], color="red", marker="o", markersize=4.2,
               linestyle="none"),
    ]
    leg = ax.legend(handles, series_labels, loc="lower right",
                    bbox_to_anchor=(0.977, 0.049), borderaxespad=0,
                    fontsize=LABEL_FS, frameon=True, fancybox=False,
                    framealpha=1, edgecolor=AX_COLOR, handlelength=2.6,
                    handletextpad=0.25, labelspacing=0.05, borderpad=0.2)
    leg.get_frame().set_linewidth(1.0)

fig.savefig("out.png", dpi=100)
